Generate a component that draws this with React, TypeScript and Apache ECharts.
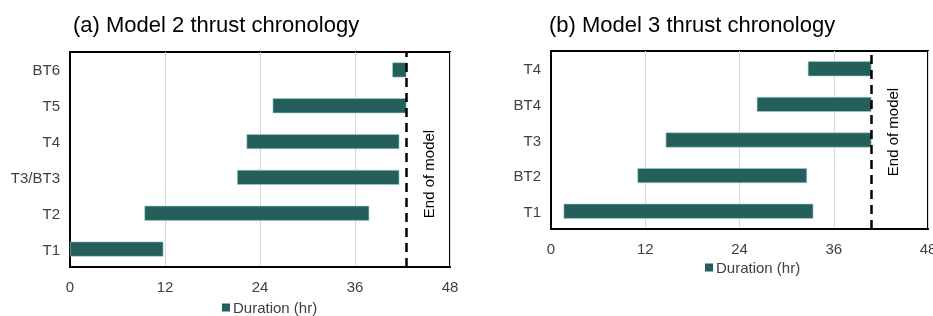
import React, { useEffect, useRef } from "react";
import * as echarts from "echarts";

const catsA = ["T1", "T2", "T3/BT3", "T4", "T5", "BT6"];
const startA = [0, 9.4, 21.1, 22.3, 25.6, 40.7];
const endA = [11.8, 37.8, 41.6, 41.6, 42.5, 42.5];
const endModelA = 42.5;

const catsB = ["T1", "BT2", "T3", "BT4", "T4"];
const startB = [1.6, 11.0, 14.6, 26.2, 32.7];
const endB = [33.4, 32.6, 40.8, 40.8, 40.8];
const endModelB = 40.8;

const xTicks = [0, 12, 24, 36, 48];
const titleA = "(a) Model 2 thrust chronology";
const titleB = "(b) Model 3 thrust chronology";
const legendName = "Duration (hr)";
const endLabel = "End of model";

const FONT = "Liberation Sans, Arial, sans-serif";
const BAR = "#245F5B";

export default function App() {
  const ref = useRef<HTMLDivElement>(null);
  useEffect(() => {
    if (!ref.current) return;
    const chart = echarts.init(ref.current, null, { renderer: "svg" });
    const grids = [
      { left: 70, top: 52, width: 380, height: 215 },
      { left: 551, top: 51, width: 377, height: 178 },
    ];
    const xAxisBase = (gi: number) => ({
      type: "value",
      gridIndex: gi,
      min: xTicks[0],
      max: xTicks[xTicks.length - 1],
      interval: 12,
      axisLine: { show: true, lineStyle: { color: "black", width: 2 } },
      axisTick: { show: false },
      splitLine: { show: true, lineStyle: { color: "#d9d9d9", width: 1 } },
      axisLabel: { color: "#404040", fontSize: 15, fontFamily: FONT, margin: 12 },
    });
    const yAxisBase = (gi: number, cats: string[]) => ({
      type: "category",
      gridIndex: gi,
      data: cats,
      axisLine: { show: true, lineStyle: { color: "black", width: 2 } },
      axisTick: { show: false },
      splitLine: { show: false },
      axisLabel: { color: "#404040", fontSize: 15, fontFamily: FONT, margin: 10 },
    });
    const mkSeries = (gi: number, starts: number[], ends: number[], endModel: number) => [
      {
        type: "bar",
        name: "base" + gi,
        xAxisIndex: gi,
        yAxisIndex: gi,
        stack: "s" + gi,
        data: starts,
        itemStyle: { color: "rgba(0,0,0,0)" },
        barWidth: 15,
      },
      {
        type: "bar",
        name: legendName,
        xAxisIndex: gi,
        yAxisIndex: gi,
        stack: "s" + gi,
        data: ends.map((e, i) => +(e - starts[i]).toFixed(2)),
        itemStyle: { color: BAR, borderColor: "#9fd3cf", borderWidth: 0.6 },
        barWidth: 15,
        markLine: {
          silent: true,
          symbol: "none",
          label: { show: false },
          lineStyle: { color: "black", type: [9, 6], width: 2.5 },
          data: [{ xAxis: endModel }],
        },
      },
    ];
    const legendCommon = {
      data: [legendName],
      itemWidth: 8,
      itemHeight: 8,
      padding: 0,
      icon: "rect",
      selectedMode: false,
      itemStyle: { borderWidth: 0 },
      textStyle: { fontFamily: FONT, fontSize: 15, color: "#404040", padding: [0, 0, 0, -2] },
    };
    chart.setOption({
      animation: false,
      title: [
        { text: titleA, left: 73, top: 13, padding: 0, textStyle: { fontFamily: FONT, fontSize: 22, fontWeight: "normal", color: "#000" } },
        { text: titleB, left: 549, top: 13, padding: 0, textStyle: { fontFamily: FONT, fontSize: 22, fontWeight: "normal", color: "#000" } },
      ],
      grid: grids.map((g) => ({
        ...g,
        show: true,
        borderColor: "black",
        borderWidth: 2,
        outerBoundsMode: "none",
        containLabel: false,
      })),
      xAxis: [xAxisBase(0), xAxisBase(1)],
      yAxis: [yAxisBase(0, catsA), yAxisBase(1, catsB)],
      legend: [
        { ...legendCommon, left: 222, top: 300 },
        { ...legendCommon, left: 705, top: 260 },
      ],
      series: [...mkSeries(0, startA, endA, endModelA), ...mkSeries(1, startB, endB, endModelB)],
      graphic: [
        { type: "rect", shape: { ...grids[0], x: grids[0].left, y: grids[0].top }, style: { fill: "none", stroke: "black", lineWidth: 2 } },
        { type: "rect", shape: { ...grids[1], x: grids[1].left, y: grids[1].top }, style: { fill: "none", stroke: "black", lineWidth: 2 } },
        {
          type: "text",
          x: 428,
          y: 174,
          rotation: Math.PI / 2,
          style: { text: endLabel, fontFamily: FONT, fontSize: 15, fill: "#000", align: "center", verticalAlign: "middle" },
        },
        {
          type: "text",
          x: 892,
          y: 132,
          rotation: Math.PI / 2,
          style: { text: endLabel, fontFamily: FONT, fontSize: 15, fill: "#000", align: "center", verticalAlign: "middle" },
        },
      ],
    });
    return () => chart.dispose();
  }, []);
  return <div ref={ref} style={{ position: "fixed", left: 0, top: 0, width: 933, height: 316 }} />;
}
